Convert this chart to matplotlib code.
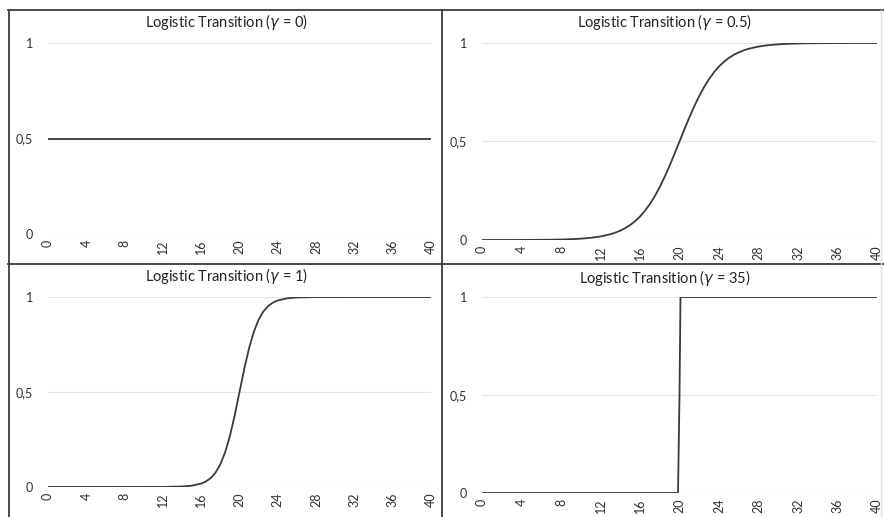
import matplotlib.pyplot as plt
from matplotlib.lines import Line2D

plt.rcParams['font.family'] = ['Lato', 'DejaVu Sans']

# Data
gammas = ['0', '0.5', '1', '35']

x_g0 = [0, 40]
y_g0 = [0.5, 0.5]

x_g05 = [0, 1, 2, 3, 4, 5, 6, 7, 8, 9, 10, 11, 12, 13, 13.5, 14, 14.5, 15, 15.5, 16,
         16.5, 17, 17.5, 18, 18.5, 19, 19.5, 20, 20.5, 21, 21.5, 22, 22.5, 23, 23.5,
         24, 24.5, 25, 25.5, 26, 26.5, 27, 28, 29, 30, 31, 32, 33, 34, 35, 36, 37, 38,
         39, 40]
y_g05 = [0.0000, 0.0001, 0.0001, 0.0002, 0.0003, 0.0006, 0.0009, 0.0015, 0.0025, 0.0041,
         0.0067, 0.0110, 0.0180, 0.0293, 0.0373, 0.0474, 0.0601, 0.0759, 0.0953, 0.1192,
         0.1480, 0.1824, 0.2227, 0.2689, 0.3208, 0.3775, 0.4378, 0.5000, 0.5622, 0.6225,
         0.6792, 0.7311, 0.7773, 0.8176, 0.8520, 0.8808, 0.9047, 0.9241, 0.9399, 0.9526,
         0.9627, 0.9707, 0.9820, 0.9890, 0.9933, 0.9959, 0.9975, 0.9985, 0.9991, 0.9994,
         0.9997, 0.9998, 0.9999, 0.9999, 1.0000]

x_g1 = [0, 4, 8, 12, 14, 15, 16, 16.5, 17, 17.5, 18, 18.5, 19, 19.5, 20, 20.5, 21,
        21.5, 22, 22.5, 23, 23.5, 24, 25, 26, 28, 32, 36, 40]
y_g1 = [0.0, 0.0, 0.0, 0.0003, 0.0025, 0.0067, 0.0180, 0.0293, 0.0474, 0.0759, 0.1192,
        0.1824, 0.2689, 0.3775, 0.5, 0.6225, 0.7311, 0.8176, 0.8808, 0.9241, 0.9526,
        0.9707, 0.9820, 0.9933, 0.9975, 0.9997, 1.0, 1.0, 1.0]

x_g35 = [0, 19.85, 20, 20.1, 40]
y_g35 = [0, 0, 0.5, 1, 1]

series = [(x_g0, y_g0), (x_g05, y_g05), (x_g1, y_g1), (x_g35, y_g35)]
x_ticks = list(range(0, 41, 4))
y_ticks = [0, 0.5, 1]
y_labels = ['0', '0,5', '1']

W, H = 884, 517
fig = plt.figure(figsize=(W / 100, H / 100), dpi=100)

# axes rectangles in pixels: (left, right, y of value 0, y of value 1)
boxes = [(48, 431, 234, 43), (482, 877, 240, 43),
         (48, 431, 487, 297), (482, 877, 493, 297)]
title_pos = [(227, 22), (665, 22), (227, 276), (665, 278)]

line_color = '#3a3a3a'
for i, (x, y) in enumerate(series):
    l, r, y0, y1 = boxes[i]
    ax = fig.add_axes([l / W, 1 - y0 / H, (r - l) / W, (y0 - y1) / H])
    ax.plot(x, y, color=line_color, lw=1.3)
    ax.set_xlim(0, 40)
    ax.set_ylim(0, 1)
    ax.set_xticks(x_ticks)
    ax.set_xticklabels([str(t) for t in x_ticks], rotation=90, fontsize=9, color='#303030')
    ax.set_yticks(y_ticks)
    ax.set_yticklabels(y_labels, fontsize=9, color='#303030')
    ax.tick_params(length=0)
    ax.tick_params(axis='x', pad=4)
    ax.tick_params(axis='y', pad=11)
    ax.grid(axis='y', color='#e6e6e6', lw=0.8)
    ax.set_axisbelow(True)
    for s in ax.spines.values():
        s.set_visible(False)
    tx, ty = title_pos[i]
    fig.text(tx / W, 1 - ty / H, 'Logistic Transition ($\\gamma$ = %s)' % gammas[i],
             ha='center', va='center', fontsize=10.5, color='#222222')

# panel borders
def hline(y, x0, x1, **kw):
    fig.add_artist(Line2D([x0 / W, x1 / W], [1 - y / H, 1 - y / H], transform=fig.transFigure, **kw))

def vline(x, y0, y1, **kw):
    fig.add_artist(Line2D([x / W, x / W], [1 - y0 / H, 1 - y1 / H], transform=fig.transFigure, **kw))

border = dict(color='#3a3a3a', lw=1.3)
hline(10, 8, 884, **border)
hline(264, 8, 884, **border)
vline(8.5, 10, 517, **border)
vline(441.5, 10, 517, **border)
vline(881, 10, 517, color='#e0e0e0', lw=1.0)

fig.savefig('out.png', dpi=100)
